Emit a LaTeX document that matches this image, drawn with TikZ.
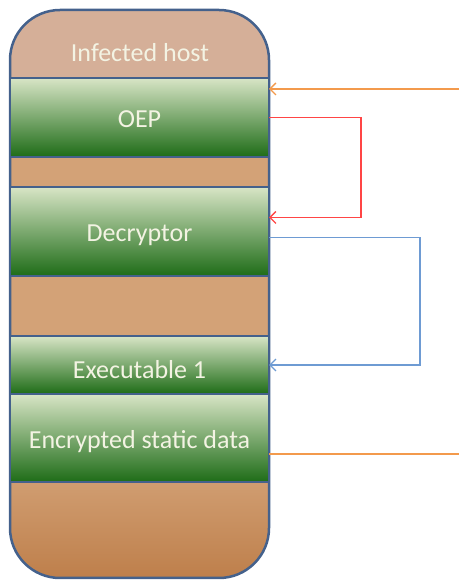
\documentclass[tikz,border=0pt]{standalone}
\usepackage{fontspec}
\setmainfont{Carlito}
\usetikzlibrary{arrows.meta}
\definecolor{frame}{HTML}{44618C}
\definecolor{hosttan}{HTML}{D5AF98}
\definecolor{gaptan}{HTML}{D3A277}
\definecolor{basetan}{HTML}{BE7F4B}
\definecolor{leaf}{HTML}{D8E5C6}
\definecolor{moss}{HTML}{8DB066}
\definecolor{forest}{HTML}{1E6C17}
\definecolor{cream}{HTML}{F3F3E3}
\definecolor{orange}{HTML}{F39A4C}
\definecolor{red}{HTML}{FF4545}
\definecolor{blue}{HTML}{6E9BD3}

\begin{document}
\begin{tikzpicture}[x=1pt,y=1pt,font=\fontsize{26}{30}\selectfont,text=cream,
  >={Straight Barb[length=6pt,width=12pt]},
  band/.style={rectangle,draw=frame,line width=2.5pt,outer sep=0pt,inner sep=0pt,
    minimum width=259pt,anchor=north west,text height=21pt,text depth=0pt,
    top color=leaf,middle color=moss,bottom color=forest},
  link/.style={line width=1.4pt}]
  \useasboundingbox (0,0) rectangle (459,581);
  % tan body of the host
  \begin{scope}
    \clip[rounded corners=50pt] (10,3) rectangle (269,571);
    \fill[hosttan] (10,503) rectangle (269,571);
    \fill[gaptan] (10,99) rectangle (269,503);
    \shade[top color=gaptan!85!basetan,bottom color=basetan] (10,3) rectangle (269,99);
  \end{scope}
  \draw[frame,line width=2.5pt,rounded corners=50pt] (10,3) rectangle (269,571);
  \node (host) at (140,528) {Infected host};
  % sections
  \node[band,minimum height=79pt] (oep) at (10,503) {OEP};
  \node[band,minimum height=89pt] (dec) at (10,394) {Decryptor};
  \node[band,minimum height=58pt,text height=28pt] (exe) at (10,245) {Executable 1};
  \node[band,minimum height=88pt] (enc) at (10,187) {Encrypted static data};
  % control flow
  \coordinate (feedin) at (459,492);
  \coordinate (feedout) at (459,127);
  \draw[link,orange,->] (feedin) -- (feedin -| oep.east);
  \draw[link,red,->] (oep.east) -- ++(92,0) |- ([yshift=14pt]dec.east);
  \draw[link,blue,->] ([yshift=-6pt]dec.east) -- ++(151,0) |- (exe.east);
  \draw[link,orange] (enc.east |- feedout) -- (feedout);
\end{tikzpicture}
\end{document}
